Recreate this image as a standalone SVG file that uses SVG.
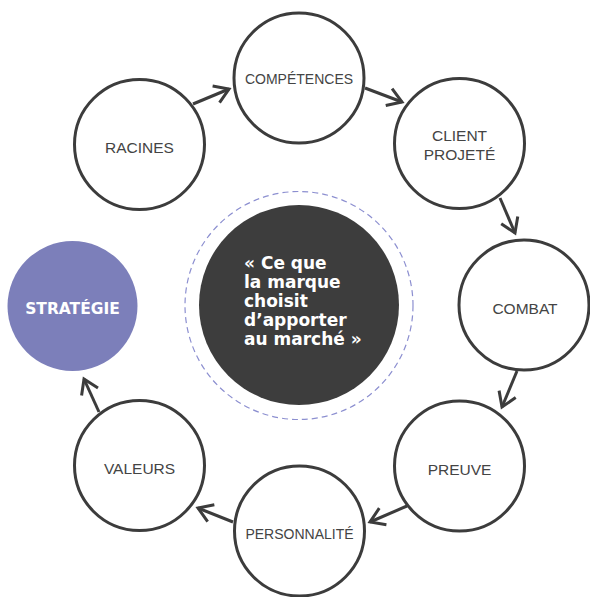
<svg xmlns="http://www.w3.org/2000/svg" width="590" height="597" viewBox="0 0 590 597">
<style>
.node{fill:#fff;stroke:#3c3c3c;stroke-width:3}
.lbl{font-family:"Liberation Sans",Arial,sans-serif;font-size:15.5px;fill:#444;text-anchor:middle}
.sm{font-size:14px}
.conn line{stroke:#3c3c3c;stroke-width:3;fill:none;marker-end:url(#ah)}
.ctr{font-family:"DejaVu Sans",sans-serif;font-weight:bold;font-size:17px;fill:#fff}
</style>
<defs>
<marker id="ah" markerUnits="userSpaceOnUse" markerWidth="40" markerHeight="40" viewBox="-20 -20 40 40" refX="0" refY="0" orient="auto" overflow="visible">
<path d="M-14,-9 L0,0 L-14,9" fill="none" stroke="#3c3c3c" stroke-width="3" stroke-linejoin="miter"/>
</marker>
</defs>
<rect width="590" height="597" fill="#fff"/>
<g id="center">
<circle cx="299" cy="305.5" r="114" fill="none" stroke="#8c8fd0" stroke-width="1.2" stroke-dasharray="6 4"/>
<circle cx="299" cy="305" r="100" fill="#3d3d3d"/>
<text class="ctr"><tspan x="244" y="269">« Ce que</tspan><tspan x="244" y="288">la marque</tspan><tspan x="244" y="307">choisit</tspan><tspan x="244" y="326">d’apporter</tspan><tspan x="244" y="345">au marché »</tspan></text>
</g>
<g id="competences"><circle class="node" cx="299" cy="78" r="65"/><text class="lbl sm" x="299" y="84">COMPÉTENCES</text></g>
<g id="client"><circle class="node" cx="459.5" cy="143.5" r="65"/><text class="lbl" x="459.5" y="141">CLIENT</text><text class="lbl" x="459.5" y="160">PROJETÉ</text></g>
<g id="combat"><circle class="node" cx="524" cy="305" r="65"/><text class="lbl" x="525" y="314">COMBAT</text></g>
<g id="preuve"><circle class="node" cx="459.5" cy="466" r="65"/><text class="lbl" x="459.5" y="475">PREUVE</text></g>
<g id="personnalite"><circle class="node" cx="299.5" cy="531" r="65"/><text class="lbl sm" x="299.5" y="539">PERSONNALITÉ</text></g>
<g id="valeurs"><circle class="node" cx="139.5" cy="465.5" r="65"/><text class="lbl" x="139.5" y="474">VALEURS</text></g>
<g id="racines"><circle class="node" cx="139.5" cy="144.5" r="65"/><text class="lbl" x="139.5" y="153">RACINES</text></g>
<g id="strategie"><circle cx="72.5" cy="306" r="65" fill="#7c7fba"/><text x="72.5" y="314" font-family="DejaVu Sans,sans-serif" font-weight="bold" font-size="15.5" fill="#fff" text-anchor="middle">STRATÉGIE</text></g>
<g id="connectors" class="conn">
<line x1="193" y1="104" x2="229" y2="89"/>
<line x1="365" y1="88" x2="402" y2="102"/>
<line x1="500" y1="198" x2="515" y2="233"/>
<line x1="517" y1="371" x2="502" y2="407"/>
<line x1="407" y1="506" x2="370" y2="522"/>
<line x1="233" y1="522" x2="198" y2="508"/>
<line x1="99" y1="412" x2="84" y2="379"/>
</g>
</svg>
